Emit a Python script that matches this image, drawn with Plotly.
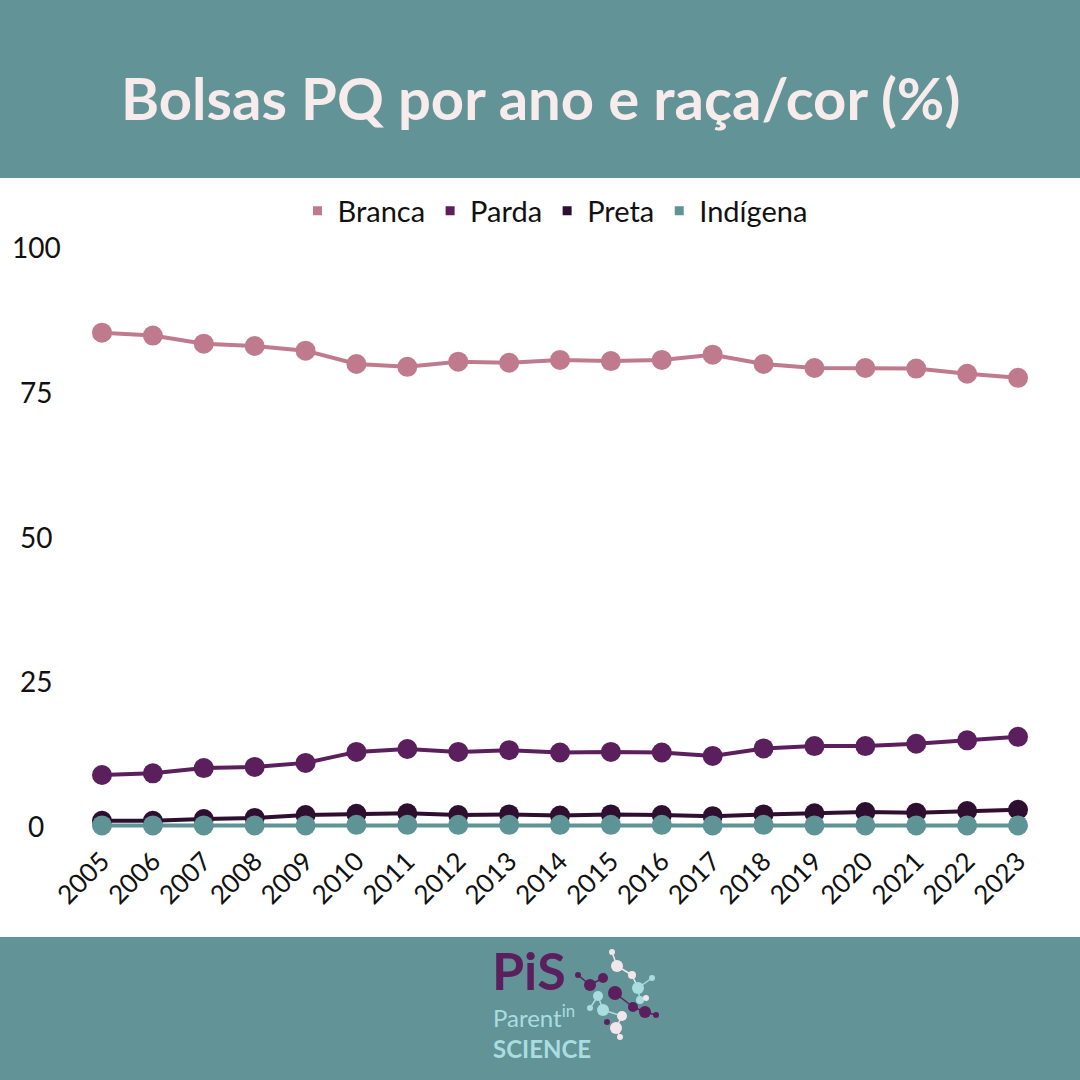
import plotly.graph_objects as go

anos = list(range(2005, 2024))
branca = [85.2, 84.7, 83.3, 82.9, 82.1, 79.8, 79.3, 80.2, 80.0, 80.5, 80.3, 80.5, 81.4, 79.8, 79.1, 79.1, 79.0, 78.1, 77.4]
parda = [8.8, 9.1, 10.0, 10.2, 10.9, 12.8, 13.3, 12.8, 13.1, 12.7, 12.8, 12.7, 12.1, 13.4, 13.8, 13.8, 14.2, 14.8, 15.4]
preta = [0.9, 0.9, 1.2, 1.4, 1.9, 2.1, 2.2, 1.9, 2.0, 1.8, 2.0, 1.9, 1.7, 2.0, 2.2, 2.4, 2.3, 2.6, 2.8]
indigena = [0.1, 0.1, 0.1, 0.1, 0.1, 0.2, 0.2, 0.2, 0.2, 0.2, 0.2, 0.2, 0.1, 0.2, 0.1, 0.1, 0.1, 0.1, 0.1]
y_ticks = [0, 25, 50, 75, 100]

series = [
    ("Branca", branca, "#c07a8e"),
    ("Parda", parda, "#5b1f5e"),
    ("Preta", preta, "#2e0f30"),
    ("Indígena", indigena, "#5f9497"),
]

TEAL = "#619397"
FONT = "Lato"

fig = go.Figure()

# linhas + pontos (Indígena por último, fica por cima)
for nome, vals, cor in series:
    fig.add_trace(go.Scatter(
        x=anos, y=vals, mode="lines+markers", name=nome,
        line=dict(color=cor, width=4),
        marker=dict(color=cor, size=20),
        showlegend=False,
    ))

# legenda só com quadradinhos
for nome, vals, cor in series:
    fig.add_trace(go.Scatter(
        x=[None], y=[None], mode="markers", name=nome,
        marker=dict(color=cor, size=9, symbol="square"),
    ))

L, R, T, B = 60, 30, 230, 240
W = 1080 - L - R
H = 1080 - T - B


def px_y(p):
    return (1080 - B - p) / H


def px_x(p):
    return (p - L) / W


# rótulos do eixo y centralizados como no original
for t in y_ticks:
    fig.add_annotation(x=px_x(36), xref="paper", y=t, yref="y", text=str(t),
                       showarrow=False, xanchor="center", yanchor="middle",
                       font=dict(family=FONT, size=28, color="#111111"))

# faixas de cabeçalho e rodapé
fig.add_shape(type="rect", xref="paper", yref="paper", x0=px_x(-5), x1=px_x(1085),
              y0=px_y(178), y1=px_y(-5), fillcolor=TEAL, line_width=0, layer="below")
fig.add_shape(type="rect", xref="paper", yref="paper", x0=px_x(-5), x1=px_x(1085),
              y0=px_y(1085), y1=px_y(937), fillcolor=TEAL, line_width=0, layer="below")

fig.add_annotation(x=px_x(540), y=px_y(97), xref="paper", yref="paper",
                   xanchor="center", yanchor="middle",
                   text="<b>Bolsas PQ por ano e raça/cor (%)</b>", showarrow=False,
                   font=dict(family=FONT, size=58, color="#f7ebeb"))

# logo Parent in Science
fig.add_annotation(x=px_x(490), y=px_y(970), xref="paper", yref="paper",
                   xanchor="left", yanchor="middle",
                   text="<b>PiS</b>", showarrow=False,
                   font=dict(family=FONT, size=52, color="#5b1f5e"))
fig.add_annotation(x=px_x(491), y=px_y(1031), xref="paper", yref="paper",
                   xanchor="left", yanchor="middle", align="left",
                   text="Parent<sup>in</sup><br><b>SCIENCE</b>", showarrow=False,
                   font=dict(family=FONT, size=24, color="#a9dde0"))

# moléculas decorativas
dots = [
    (612, 952, "#f2e6ea", 3), (617, 966, "#f2e6ea", 6), (632, 975, "#f2e6ea", 4),
    (578, 975, "#5b1f5e", 3), (590, 985, "#5b1f5e", 6), (603, 978, "#5b1f5e", 5),
    (638, 988, "#a9dde0", 6), (652, 978, "#a9dde0", 3), (640, 1000, "#a9dde0", 4),
    (598, 996, "#a9dde0", 5), (590, 1008, "#a9dde0", 3), (603, 1010, "#a9dde0", 6),
    (615, 993, "#5b1f5e", 7), (622, 1016, "#f2e6ea", 5), (616, 1028, "#f2e6ea", 6),
    (620, 1037, "#f2e6ea", 3), (633, 1007, "#5b1f5e", 5), (645, 1012, "#5b1f5e", 6),
    (656, 1015, "#5b1f5e", 3), (607, 1022, "#5b1f5e", 3), (646, 998, "#f2e6ea", 3),
]
links = [(0, 1), (1, 2), (3, 4), (4, 5), (6, 7), (6, 8), (9, 10), (9, 11),
         (13, 14), (14, 15), (16, 17), (17, 18), (11, 13), (2, 6), (12, 16)]
for a, b in links:
    xa, ya = dots[a][0], dots[a][1]
    xb, yb = dots[b][0], dots[b][1]
    fig.add_shape(type="line", xref="paper", yref="paper",
                  x0=px_x(xa), y0=px_y(ya), x1=px_x(xb), y1=px_y(yb),
                  line=dict(color=dots[a][2], width=1.5))
for x, y, c, r in dots:
    fig.add_shape(type="circle", xref="paper", yref="paper",
                  x0=px_x(x - r), x1=px_x(x + r), y0=px_y(y + r), y1=px_y(y - r),
                  fillcolor=c, line_width=0)

fig.update_layout(
    width=1080, height=1080,
    margin=dict(l=L, r=R, t=T, b=B),
    paper_bgcolor="white", plot_bgcolor="white",
    font=dict(family=FONT, size=22, color="#111111"),
    legend=dict(orientation="h", x=0.5, xanchor="center", y=px_y(211), yanchor="middle",
                font=dict(family=FONT, size=29, color="#111111"),
                itemwidth=30, tracegroupgap=0),
    showlegend=True,
)
fig.update_xaxes(range=[2005 - 42 / 50.9, 2023 + 32 / 50.9], tickmode="array",
                 tickvals=anos, ticktext=[str(a) for a in anos], tickangle=-45,
                 showgrid=False, zeroline=False, showline=False, ticks="",
                 tickfont=dict(family=FONT, size=26, color="#111111"))
fig.update_yaxes(range=[-14 / 5.79, 100 + 17 / 5.79], showgrid=False, zeroline=False,
                 showline=False, showticklabels=False, ticks="")

fig.write_html("out.html", config={"displayModeBar": False},
               post_script="document.body.style.margin = '0';")
